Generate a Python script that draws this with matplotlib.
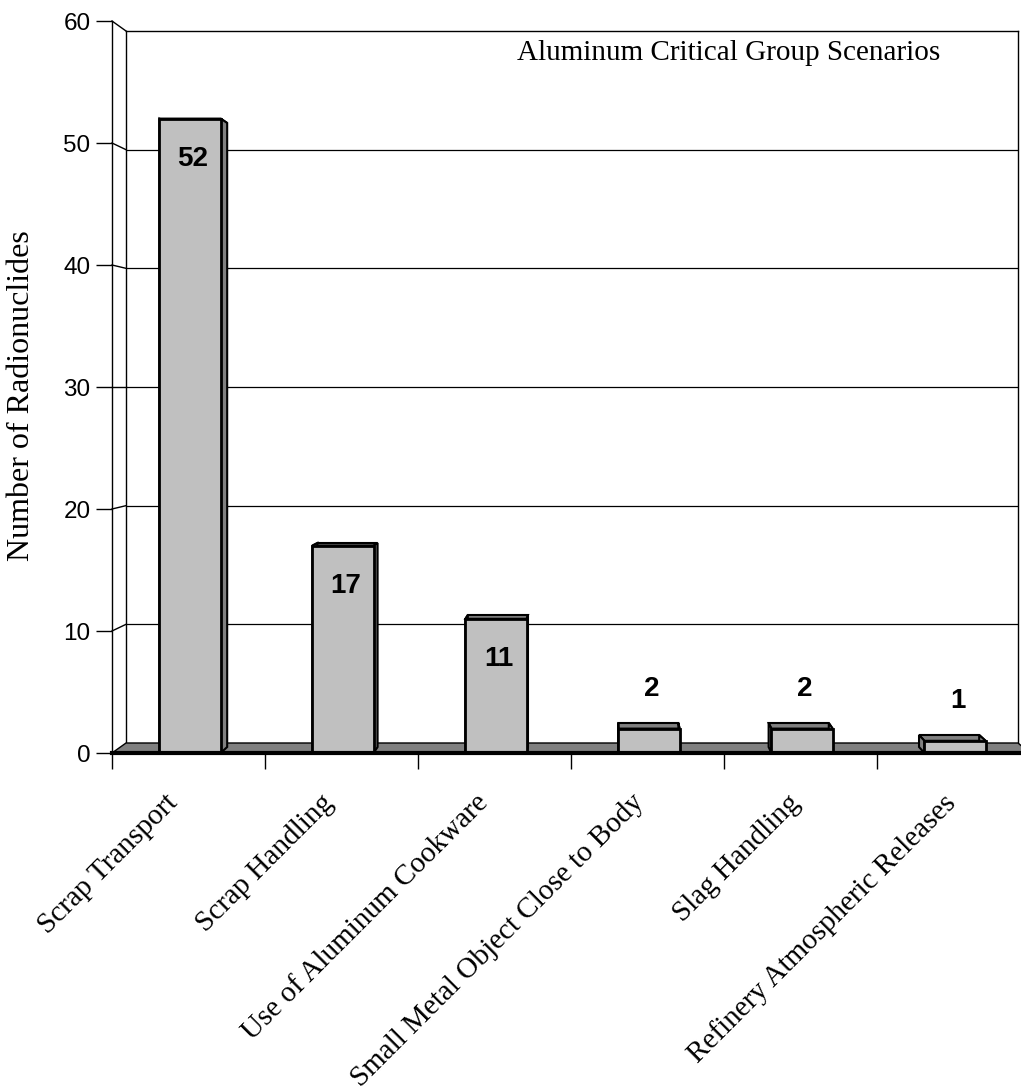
import matplotlib.pyplot as plt
from matplotlib.patches import Polygon
from matplotlib.lines import Line2D
import numpy as np

categories = ["Scrap Transport", "Scrap Handling", "Use of Aluminum Cookware",
              "Small Metal Object Close to Body", "Slag Handling",
              "Refinery Atmospheric Releases"]
counts = [52, 17, 11, 2, 2, 1]
y_ticks = [0, 10, 20, 30, 40, 50, 60]

W, H = 1021, 1091
SANS = "Liberation Sans"
SERIF = "Liberation Serif"

fig = plt.figure(figsize=(W / 100, H / 100), dpi=100)


def box(left, right, bottom, top):
    # pixel edges -> figure fraction [l, b, w, h]
    return [left / W, 1 - bottom / H, (right - left) / W, (bottom - top) / H]


# back wall and front (value axis) plane, simple perspective
axb = fig.add_axes(box(126, 1018, 743, 31))
ax = fig.add_axes(box(112, 1030, 753, 21))
ax.set_zorder(3)
ax.patch.set_visible(False)

n = len(categories)
for a in (ax, axb):
    a.set_xlim(0, n)
    a.set_ylim(0, 60)

# back wall with gridlines
axb.set_xticks([])
axb.set_yticks([])
axb.spines["bottom"].set_visible(False)
for s in ("left", "top", "right"):
    axb.spines[s].set_linewidth(1.0)
for v in y_ticks[1:-1]:
    axb.axhline(v, color="black", lw=0.9)

to_fig = fig.transFigure.inverted()


def front_pt(x, v):
    return to_fig.transform(ax.transData.transform((x, v)))


def back_pt(x, v):
    return to_fig.transform(axb.transData.transform((x, v)))


def depth_pt(x, v, f):
    return (1 - f) * front_pt(x, v) + f * back_pt(x, v)


# floor
floor = Polygon([front_pt(0, 0), front_pt(n, 0), back_pt(n, 0), back_pt(0, 0)],
                closed=True, facecolor="#808080", edgecolor="black", lw=1.0,
                transform=fig.transFigure, zorder=1)
fig.add_artist(floor)

# connectors from the front value axis to the back wall
for v in y_ticks[1:]:
    p0, p1 = front_pt(0, v), back_pt(0, v)
    fig.add_artist(Line2D([p0[0], p1[0]], [p0[1], p1[1]], color="black", lw=1.0,
                          transform=fig.transFigure, zorder=2))

# bars: front faces plus top and side faces
x = np.arange(n) + 0.51
width = 0.4
depth = 0.6
ax.bar(x, counts, width=width, color="#C0C0C0", edgecolor="black", lw=2.0, zorder=2)
for xc, v in zip(x, counts):
    x0, x1 = xc - width / 2, xc + width / 2
    faces = [
        [front_pt(x0, v), front_pt(x1, v), depth_pt(x1, v, depth), depth_pt(x0, v, depth)],
        [front_pt(x1, 0), front_pt(x1, v), depth_pt(x1, v, depth), depth_pt(x1, 0, depth)],
        [front_pt(x0, 0), front_pt(x0, v), depth_pt(x0, v, depth), depth_pt(x0, 0, depth)],
    ]
    for pts in faces:
        ax.add_patch(Polygon(pts, closed=True, facecolor="#808080", edgecolor="black",
                             lw=1.5, transform=fig.transFigure, zorder=1, clip_on=False))
    dy = -40 if v >= 10 else 40
    ax.annotate(str(v), (xc, v), xytext=(3, dy), textcoords="offset pixels",
                ha="center", va="center", fontsize=20, fontweight="bold",
                fontfamily=SANS)

# axes styling
for s in ("top", "right"):
    ax.spines[s].set_visible(False)
ax.spines["left"].set_linewidth(1.0)
ax.spines["bottom"].set_linewidth(3.0)
ax.set_yticks(y_ticks)
ax.set_yticklabels([str(t) for t in y_ticks], fontsize=17.5, fontfamily=SANS)
ax.tick_params(axis="y", length=11.5, width=1.0, pad=4)
ax.set_xticks(np.arange(n + 1))
ax.set_xticklabels([])
ax.tick_params(axis="x", length=11.5, width=1.0)

# category names, slanted, spread a little wider than the front axis
for i, cat in enumerate(categories):
    ax.annotate(cat, (i + 0.5, 0), xytext=(-15 + 2.6 * i, -46),
                textcoords="offset pixels", rotation=45, ha="right", va="center",
                rotation_mode="anchor", fontsize=21, fontfamily=SERIF,
                annotation_clip=False)

fig.text(22 / W, 1 - 396 / H, "Number of Radionuclides", rotation=90,
         ha="center", va="center", fontsize=23, fontfamily=SERIF)
fig.text(729 / W, 1 - 53 / H, "Aluminum Critical Group Scenarios",
         ha="center", va="center", fontsize=21, fontfamily=SERIF)

fig.savefig("out.png", dpi=100)
